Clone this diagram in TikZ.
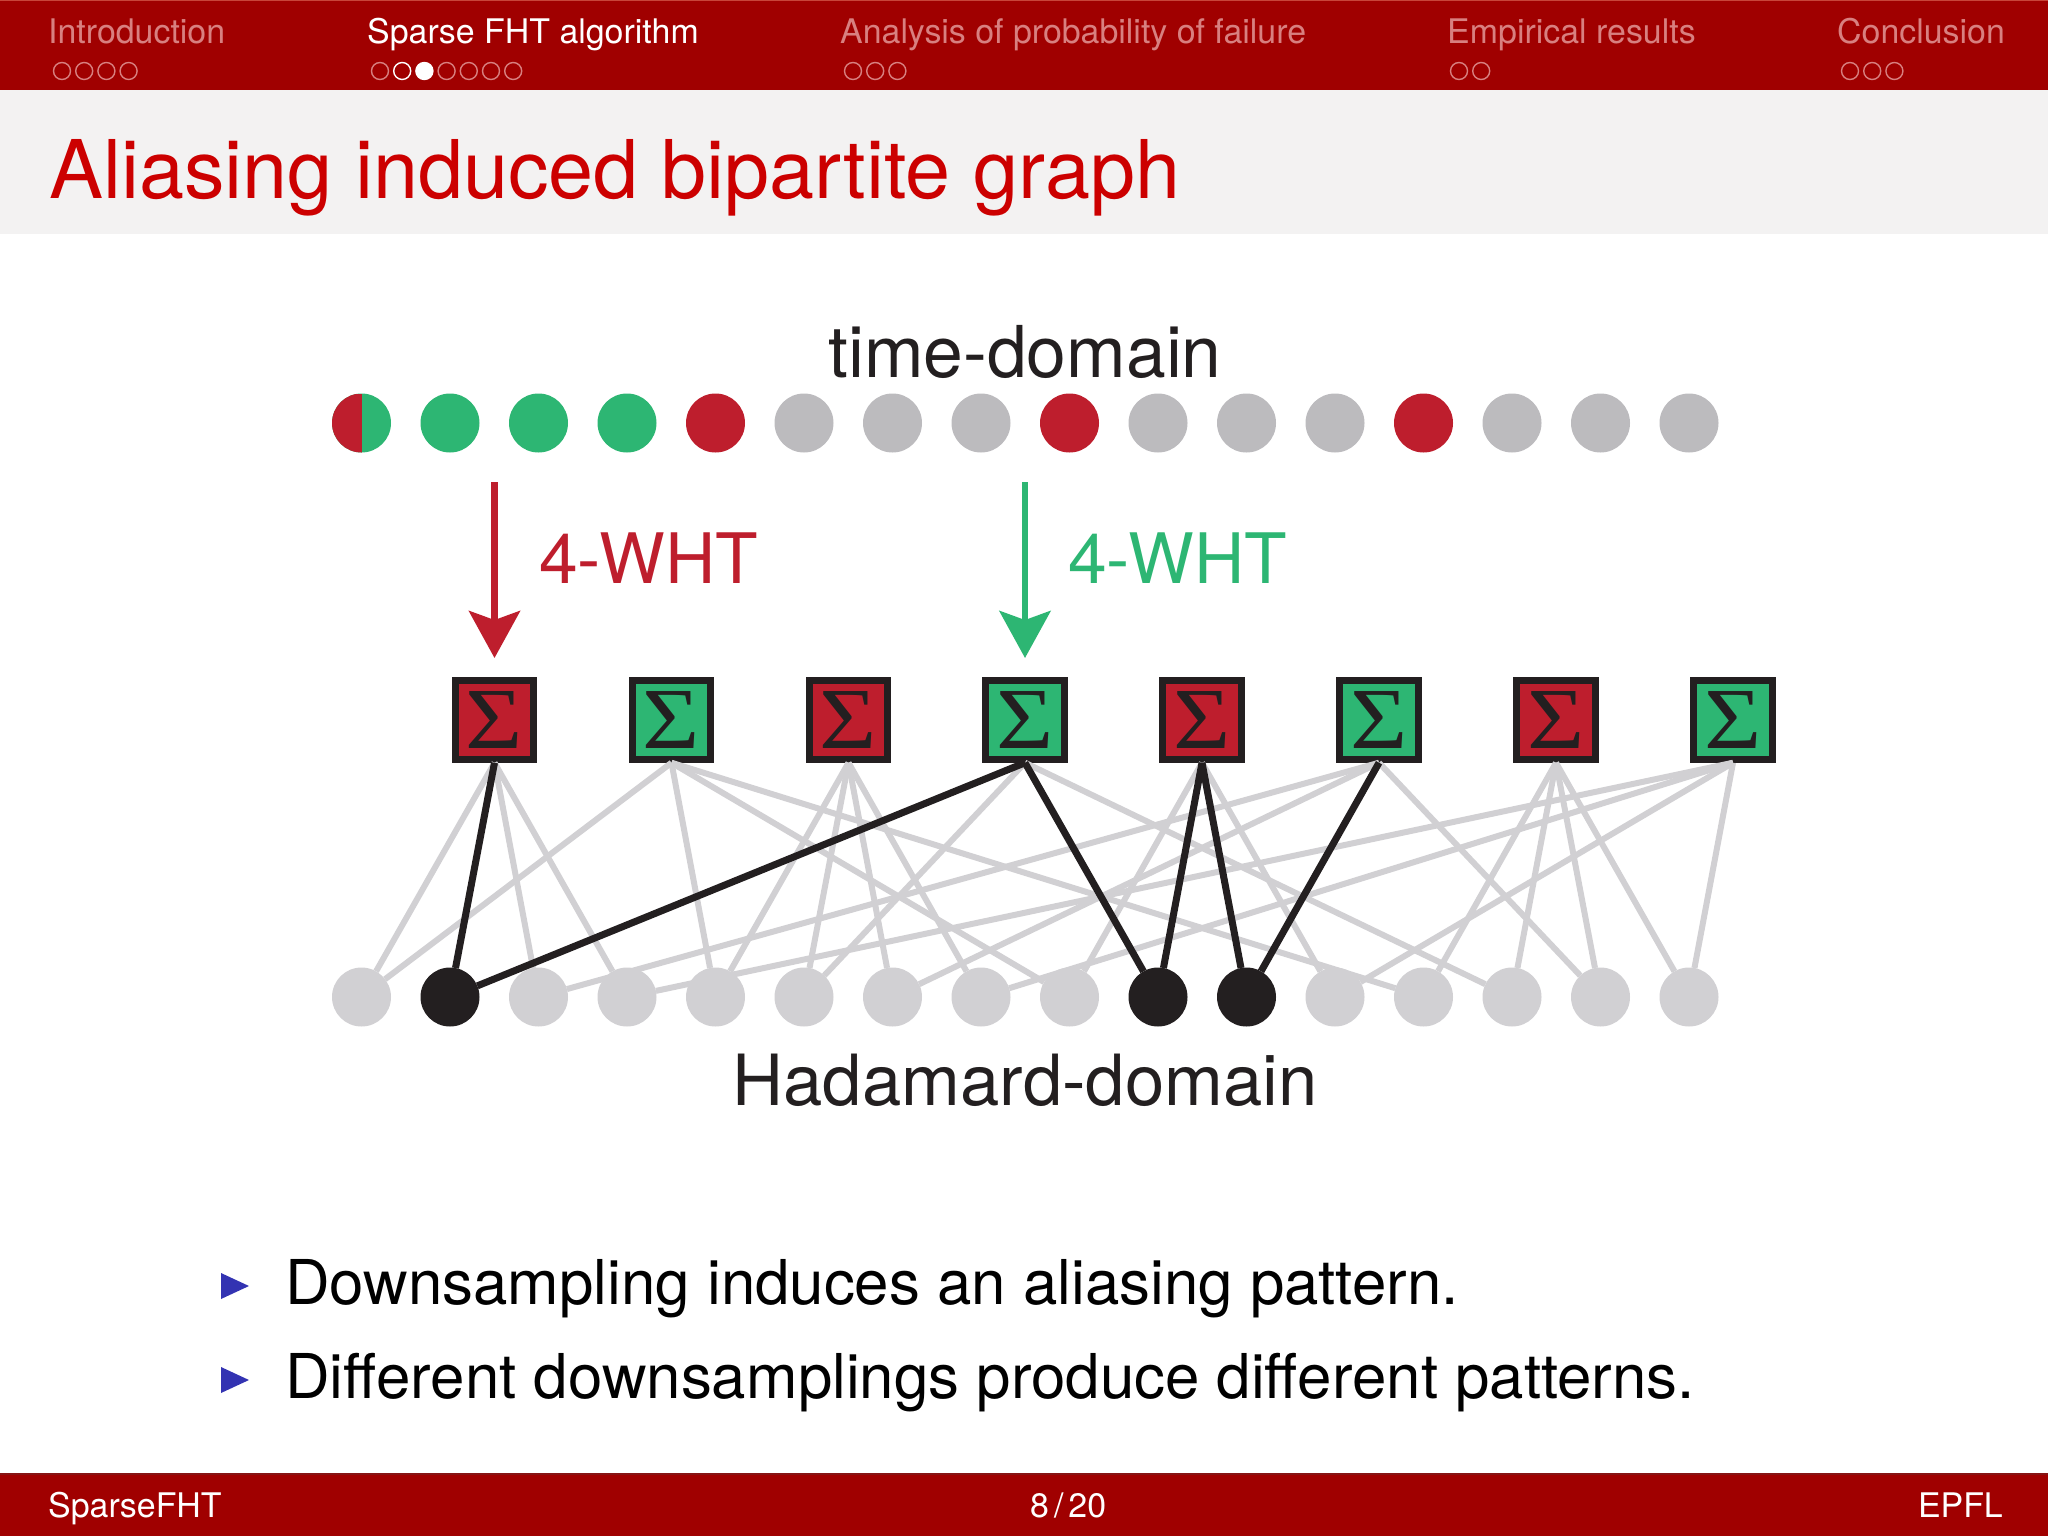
\documentclass[tikz,border=0pt]{standalone}
\usepackage{fontspec}
\setmainfont{TeX Gyre Heros}
\newfontfamily\sigmafont{Liberation Serif}
\usetikzlibrary{arrows.meta}
\definecolor{barred}{HTML}{A00000}
\definecolor{bartop}{HTML}{C8453A}
\definecolor{barline}{HTML}{861414}
\definecolor{bardim}{HTML}{D88080}
\definecolor{titlered}{HTML}{CC0000}
\definecolor{titlebg}{HTML}{F3F2F2}
\definecolor{wred}{HTML}{BE1E2D}
\definecolor{wgreen}{HTML}{2DB673}
\definecolor{wgray}{HTML}{BCBBBE}
\definecolor{lgray}{HTML}{D1D0D3}
\definecolor{wblack}{HTML}{231F20}
\definecolor{bulblue}{HTML}{3333B2}
\newcommand{\sumsign}{\scalebox{1.13}[1]{Σ}}
\tikzset{mn/.append style={minimum size=59pt,circle,inner sep=0pt,outer sep=0pt}}
\tikzset{rr/.append style={fill=wred}}
\tikzset{gn/.append style={fill=wgreen}}
\tikzset{gy/.append style={fill=wgray}}
\tikzset{lg/.append style={fill=lgray}}
\tikzset{bk/.append style={fill=wblack}}
\tikzset{sg/.append style={minimum size=78.5pt,draw=wblack,line width=7pt,inner sep=0pt,text=wblack,font=\sigmafont\fontsize{87}{87}\selectfont}}
\tikzset{md/.append style={minimum size=17pt,circle,inner sep=0pt,draw=bardim,line width=1.4pt}}
\tikzset{txt/.append style={anchor=base west,inner sep=0pt}}
\tikzset{hdr/.append style={txt,font=\fontsize{33.9}{40}\selectfont,text=bardim}}
\tikzset{big/.append style={anchor=base,inner sep=0pt,text=wblack,font=\fontsize{71.5}{80}\selectfont}}
\tikzset{wht/.append style={txt,font=\fontsize{69.6}{80}\selectfont}}
\tikzset{itm/.append style={txt,font=\fontsize{61.8}{76}\selectfont}}
\tikzset{ge/.append style={draw=lgray,line width=6pt}}
\tikzset{be/.append style={draw=wblack,line width=7pt}}
\tikzset{ar/.append style={line width=6.5pt,-{Stealth[length=47pt,width=51pt,inset=9pt]}}}

\begin{document}
\begin{tikzpicture}[x=1pt,y=-1pt]
                \useasboundingbox (0,0) rectangle (2048,1536);
                % bars
                \fill[barred] (0,0) rectangle (2048,90);
                \fill[bartop] (0,0) rectangle (2048,1.5);
                \fill[titlebg] (0,90) rectangle (2048,234);
                \fill[barred] (0,1474) rectangle (2048,1536);
                \fill[barline] (0,1473) rectangle (2048,1475);
                % header
                \node[hdr] (secintro) at (48,44) {Introduction};
                \node[hdr,text=white] (secalgo) at (367,44) {Sparse FHT algorithm};
                \node[hdr] (secfail) at (840,44) {Analysis of probability of failure};
                \node[hdr] (secemp) at (1447,44) {Empirical results};
                \node[hdr] (secconc) at (1837,44) {Conclusion};
                \node[md] (i0) at (62,71) {};
                \node[md] (i1) at (84.2,71) {};
                \node[md] (i2) at (106.4,71) {};
                \node[md] (i3) at (128.6,71) {};
                \node[md] (p0) at (380,71) {};
                \node[md,draw=white] (p1) at (402.2,71) {};
                \node[md,draw=white,fill=white] (p2) at (424.4,71) {};
                \node[md] (p3) at (446.6,71) {};
                \node[md] (p4) at (468.8,71) {};
                \node[md] (p5) at (491,71) {};
                \node[md] (p6) at (513.2,71) {};
                \node[md] (a0) at (853,71) {};
                \node[md] (a1) at (875.2,71) {};
                \node[md] (a2) at (897.4,71) {};
                \node[md] (e0) at (1459,71) {};
                \node[md] (e1) at (1481.2,71) {};
                \node[md] (c0) at (1850,71) {};
                \node[md] (c1) at (1872.2,71) {};
                \node[md] (c2) at (1894.4,71) {};
                % title
                \node[txt,text=titlered,font=\fontsize{81}{90}\selectfont] (title) at (49,198) {Aliasing induced bipartite graph};
                % time-domain
                \node[big] (tlabel) at (1025,377) {time-domain};
                \node[mn,gn,path picture={\fill[wred] (path picture bounding box.south west) rectangle (path picture bounding box.north);}] (t0) at (361.5,423) {};
                \node[mn,gn] (t1) at (450,423) {};
                \node[mn,gn] (t2) at (538.5,423) {};
                \node[mn,gn] (t3) at (627,423) {};
                \node[mn,rr] (t4) at (715.5,423) {};
                \node[mn,gy] (t5) at (804,423) {};
                \node[mn,gy] (t6) at (892.5,423) {};
                \node[mn,gy] (t7) at (981,423) {};
                \node[mn,rr] (t8) at (1069.5,423) {};
                \node[mn,gy] (t9) at (1158,423) {};
                \node[mn,gy] (t10) at (1246.5,423) {};
                \node[mn,gy] (t11) at (1335,423) {};
                \node[mn,rr] (t12) at (1423.5,423) {};
                \node[mn,gy] (t13) at (1512,423) {};
                \node[mn,gy] (t14) at (1600.5,423) {};
                \node[mn,gy] (t15) at (1689,423) {};
                % arrows
                \coordinate (r0) at (494.5,482);
                \coordinate (r1) at (494.5,658);
                \coordinate (g0) at (1025,482);
                \coordinate (g1) at (1025,658);
                \draw[ar,wred] (r0) -- (r1);
                \draw[ar,wgreen] (g0) -- (g1);
                \node[wht,text=wred] (rlabel) at (539,583) {4-WHT};
                \node[wht,text=wgreen] (glabel) at (1068,583) {4-WHT};
                % check nodes
                \node[sg,rr] (s0) at (494.5,720) {\sumsign};
                \node[sg,gn] (s1) at (671.5,720) {\sumsign};
                \node[sg,rr] (s2) at (848.5,720) {\sumsign};
                \node[sg,gn] (s3) at (1025,720) {\sumsign};
                \node[sg,rr] (s4) at (1202,720) {\sumsign};
                \node[sg,gn] (s5) at (1379,720) {\sumsign};
                \node[sg,rr] (s6) at (1556,720) {\sumsign};
                \node[sg,gn] (s7) at (1733,720) {\sumsign};
                % Hadamard-domain
                \node[mn,lg] (h0) at (361.5,997) {};
                \node[mn,bk] (h1) at (450,997) {};
                \node[mn,lg] (h2) at (538.5,997) {};
                \node[mn,lg] (h3) at (627,997) {};
                \node[mn,lg] (h4) at (715.5,997) {};
                \node[mn,lg] (h5) at (804,997) {};
                \node[mn,lg] (h6) at (892.5,997) {};
                \node[mn,lg] (h7) at (981,997) {};
                \node[mn,lg] (h8) at (1069.5,997) {};
                \node[mn,bk] (h9) at (1158,997) {};
                \node[mn,bk] (h10) at (1246.5,997) {};
                \node[mn,lg] (h11) at (1335,997) {};
                \node[mn,lg] (h12) at (1423.5,997) {};
                \node[mn,lg] (h13) at (1512,997) {};
                \node[mn,lg] (h14) at (1600.5,997) {};
                \node[mn,lg] (h15) at (1689,997) {};
                \node[big,font=\fontsize{70.6}{80}\selectfont] (hlabel) at (1025,1105) {Hadamard-domain};
                % grey edges
                \path (s0.south) edge[ge] (h0) edge[ge] (h2) edge[ge] (h3);
                \path (s1.south) edge[ge] (h0) edge[ge] (h4) edge[ge] (h8) edge[ge] (h12);
                \path (s2.south) edge[ge] (h4) edge[ge] (h5) edge[ge] (h6) edge[ge] (h7);
                \path (s3.south) edge[ge] (h5) edge[ge] (h13);
                \path (s4.south) edge[ge] (h8) edge[ge] (h11);
                \path (s5.south) edge[ge] (h2) edge[ge] (h6) edge[ge] (h14);
                \path (s6.south) edge[ge] (h12) edge[ge] (h13) edge[ge] (h14) edge[ge] (h15);
                \path (s7.south) edge[ge] (h3) edge[ge] (h7) edge[ge] (h11) edge[ge] (h15);
                % black edges
                \path (s0.south) edge[be] (h1);
                \path (s3.south) edge[be] (h1) edge[be] (h9);
                \path (s4.south) edge[be] (h9) edge[be] (h10);
                \path (s5.south) edge[be] (h10);
                % items
                \fill[bulblue] (221,1273) -- (249,1286) -- (221,1299) -- cycle;
                \fill[bulblue] (221,1367) -- (249,1380) -- (221,1393) -- cycle;
                \node[itm] (item1) at (285,1304) {Downsampling induces an aliasing pattern.};
                \node[itm] (item2) at (285,1398) {Different downsamplings produce different patterns.};
                % footer
                \node[txt,text=white,font=\fontsize{33.9}{40}\selectfont] (fleft) at (48,1517) {SparseFHT};
                \node[txt,text=white,font=\fontsize{33.9}{40}\selectfont] (fmid) at (1030,1517) {8\kern5pt/\kern5pt 20};
                \node[anchor=base east,inner sep=0pt,text=white,font=\fontsize{33.9}{40}\selectfont] (fright) at (2003,1517) {EPFL};
            \end{tikzpicture}
\end{document}
